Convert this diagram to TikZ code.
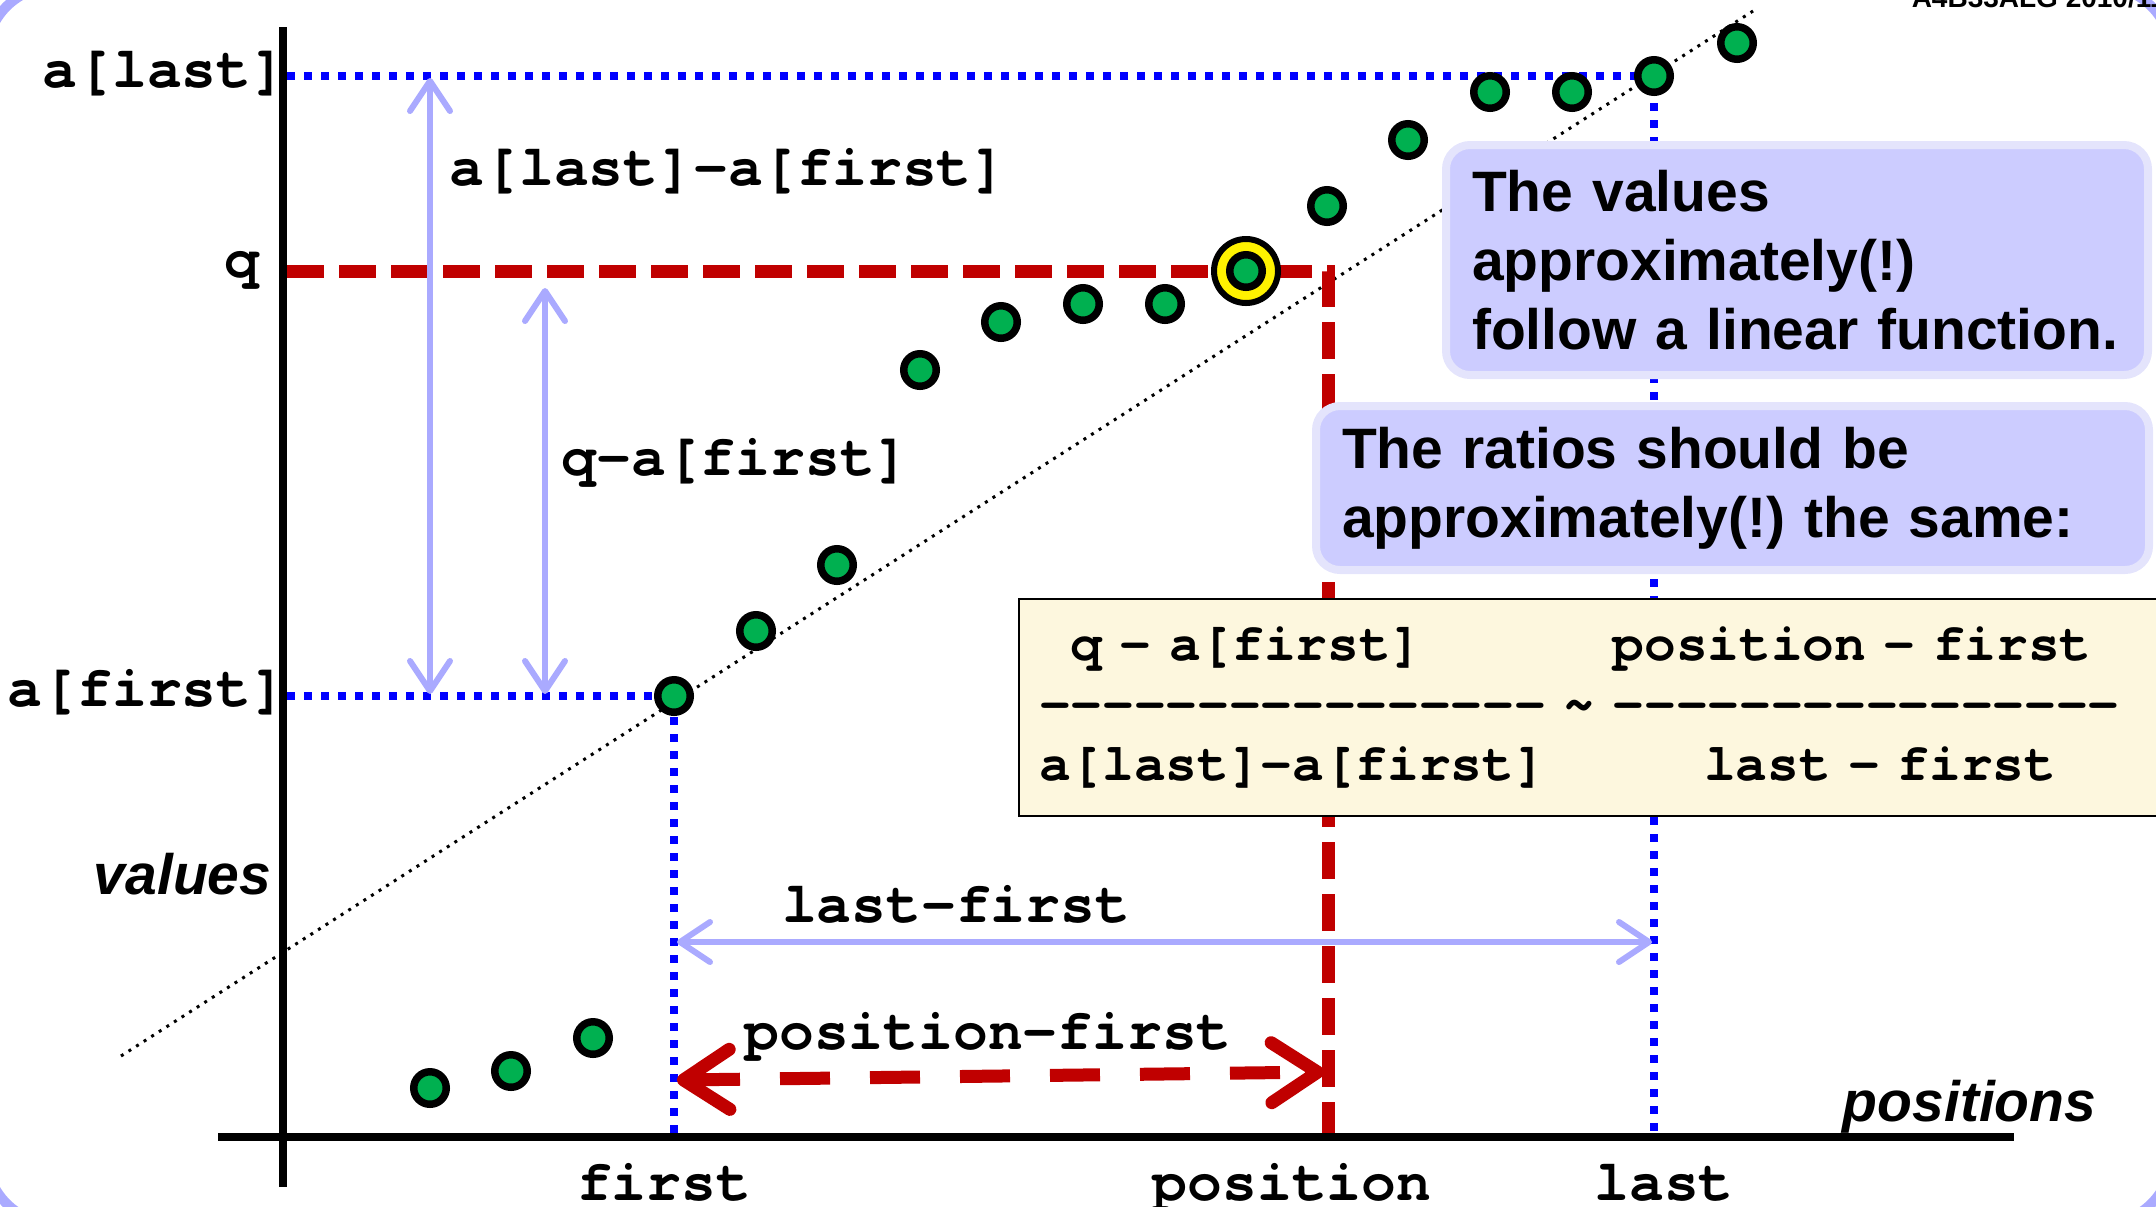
\documentclass[tikz,border=0pt]{standalone}
\usepackage{fontspec}
\setmainfont{Liberation Sans}
\setmonofont{texgyrecursor}[Extension=.otf, UprightFont=*-regular, BoldFont=*-bold, ItalicFont=*-italic, BoldItalicFont=*-bolditalic, Ligatures=NoCommon]
\usetikzlibrary{arrows.meta}

\definecolor{dotgreen}{RGB}{0,176,80}
\definecolor{lineblue}{RGB}{0,0,255}
\definecolor{darkred}{RGB}{192,0,0}
\definecolor{paleblue}{RGB}{170,170,255}
\definecolor{bubblefill}{RGB}{204,204,255}
\definecolor{bubbleedge}{RGB}{228,228,252}
\definecolor{boxfill}{RGB}{253,247,222}

\newcommand{\lblfont}{\fontsize{29}{34}\selectfont\ttfamily\bfseries}
\newcommand{\blanks}[1]{\hspace*{#1\fontcharwd\font`m}}

\tikzset{every picture/.style={line width=0.75pt}}
\tikzset{
datapt/.style={circle, draw=black, fill=dotgreen, line width=3.75pt, minimum size=16.25pt, inner sep=0pt},
hilite/.style={circle, draw=black, fill=yellow, line width=3pt, minimum size=32pt, inner sep=0pt},
axisline/.style={line width=4pt},
guide/.style={lineblue, line width=4pt, dash pattern=on 4pt off 4.5pt},
qline/.style={darkred, line width=6.5pt, dash pattern=on 18.5pt off 7.5pt},
trend/.style={line width=1.5pt, dash pattern=on 1.5pt off 3pt},
span/.style={paleblue, line width=3pt, {Straight Barb[round,length=15pt,width=20pt]}-{Straight Barb[round,length=15pt,width=20pt]}},
posspan/.style={darkred, line width=6.5pt, dash pattern=on 25pt off 20pt, {Straight Barb[round,length=23pt,width=30pt]}-{Straight Barb[round,length=23pt,width=30pt]}},
lbl/.style={font=\lblfont, inner sep=0pt},
axlbl/.style={font=\fontsize{28.5}{34}\selectfont\bfseries\itshape, inner sep=0pt},
bubble/.style={draw=bubbleedge, fill=bubblefill, line width=4pt, rounded corners=12pt, align=left, anchor=north west, inner xsep=13pt, font=\fontsize{28.5}{34.5}\selectfont\bfseries\frenchspacing},
ratiobox/.style={draw=black, line width=1pt, fill=boxfill, anchor=north west, align=left, inner xsep=10pt, text width=580pt, minimum height=108.5pt, font=\fontsize{26.4}{30}\selectfont\ttfamily\bfseries},
framearc/.style={paleblue, line width=5pt, rounded corners=35pt}
}

\begin{document}
\begin{tikzpicture}[x=0.5pt,y=0.5pt,yscale=-1,xscale=1]
\clip (0,0) rectangle (2156,1206);

%Shape: slide frame
\draw[framearc] (-14,-14) rectangle (2172,1224);
% header
\node[anchor=base west, inner sep=0pt, font=\fontsize{14}{16}\selectfont\bfseries] (header) at (1911,7) {A4B33ALG 2010/11};

% positions of the array values
\foreach \px/\py [count=\i] in {430/1088,511/1071,593/1038,674/696,756/631,837/565,920/370,1001/322,1083/304,1165/304,1246/271,1327/206,1408/140,1490/92,1572/92,1654/76,1737/43}
  \coordinate (p\i) at (\px,\py);

\coordinate (lastaxis) at (287,76);
\coordinate (firstaxis) at (287,696);
\coordinate (qaxis) at (287,271);
\coordinate (firstfoot) at (674,1137);
\coordinate (lastfoot) at (1654,1137);
\coordinate (posfoot) at (1328,1137);
\coordinate (trendlo) at (121,1056);
\coordinate (trendhi) at (1753,11);

%Straight Lines: linear trend
\draw[trend] (trendlo) -- (trendhi);
%Straight Lines: guides
\draw[guide] (lastaxis) -- (p16) -- (lastfoot);
\draw[guide] (firstaxis) -- (p4) -- (firstfoot);
%Straight Lines: q and position
\draw[qline] (qaxis) -| (posfoot);

%Straight Lines: axes
\coordinate (yaxtop) at (283,27);
\coordinate (yaxbot) at (283,1187);
\coordinate (xaxl) at (218,1137);
\coordinate (xaxr) at (2014,1137);
\draw[axisline] (yaxtop) -- (yaxbot);
\draw[axisline] (xaxl) -- (xaxr);

%Straight Lines: differences
\coordinate (dlTop) at (430,78);
\coordinate (dlBot) at (430,694);
\coordinate (dqTop) at (545,288);
\coordinate (dqBot) at (545,694);
\coordinate (dpL) at (677,942);
\coordinate (dpR) at (1652,942);
\coordinate (rpL) at (677,1080);
\coordinate (rpR) at (1324,1072);
\draw[span] (dlTop) -- (dlBot);
\draw[span] (dqTop) -- (dqBot);
\draw[span] (dpL) -- (dpR);
\draw[posspan] (rpL) -- (rpR);

% the values
\node[hilite] (qring) at (p11) {};
\foreach \i in {1,...,17}
  \node[datapt] (d\i) at (p\i) {};

% notes
\node[bubble, text width=325pt, minimum height=115pt] (note1) at (1442,141)
  {The values\\approximately(!)\\follow a linear function.};
\node[bubble, text width=390.5pt, minimum height=82pt] (note2) at (1312,402)
  {The ratios should be\\approximately(!) the same:};
\node[ratiobox] (ratio) at (1018,598)
  {\blanks{1}q - a[first]\blanks{6}position - first\\
   ---------------- \textasciitilde{} ----------------\\
   a[last]-a[first]\blanks{5}last - first};

% Text Node
\node[lbl, anchor=east] (lblLast) at (287,74) {a[last]};
% Text Node
\node[lbl, anchor=east] (lblQ) at (260,270) {q};
% Text Node
\node[lbl, anchor=east] (lblFirst) at (287,692) {a[first]};
% Text Node
\node[axlbl, anchor=base east] (lblValues) at (272,894) {values};
% Text Node
\node[axlbl, anchor=base east] (lblPositions) at (2097,1121) {positions};
% Text Node
\node[lbl, anchor=west] (lblDl) at (449,171) {a[last]-a[first]};
% Text Node
\node[lbl, anchor=west] (lblDq) at (561,463) {q-a[first]};
% Text Node
\node[lbl] (lblDp) at (956,904) {last-first};
% Text Node
\node[lbl] (lblDpos) at (988,1037) {position-first};
% Text Node
\node[lbl, anchor=base] (tickFirst) at (664,1200) {first};
% Text Node
\node[lbl, anchor=base] (tickPos) at (1292,1200) {position};
% Text Node
\node[lbl, anchor=base] (tickLast) at (1664,1200) {last};
\end{tikzpicture}
\end{document}
